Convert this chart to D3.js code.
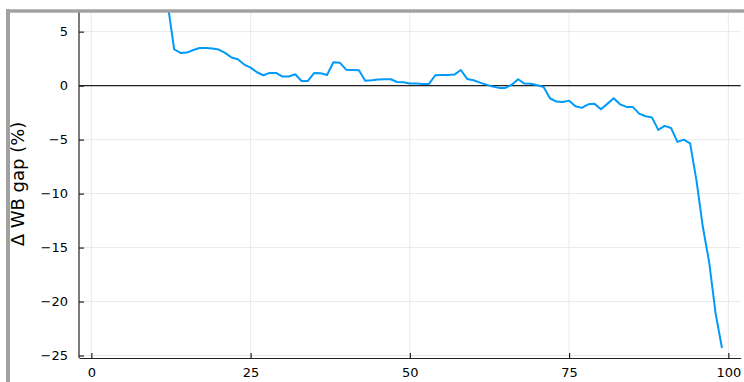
<!DOCTYPE html>
<html>
<head>
<meta charset="utf-8">
<script src="https://cdn.jsdelivr.net/npm/d3@7"></script>
<style>
  html, body { margin: 0; padding: 0; background: #fff; }
  svg { display: block; }
  text { font-family: "DejaVu Sans", sans-serif; fill: #000; }
</style>
</head>
<body>
<svg id="chart" width="744" height="382"></svg>
<script>
// Percentile rank along x, change in WB gap (%) along y
const xs = [12, 13, 14, 15, 16, 17, 18, 19, 20, 21, 22, 23, 24, 25, 26, 27, 28, 29, 30,
  31, 32, 33, 34, 35, 36, 37, 38, 39, 40, 41, 42, 43, 44, 45, 46, 47, 48, 49, 50,
  51, 52, 53, 54, 55, 56, 57, 58, 59, 60, 61, 62, 63, 64, 65, 66, 67, 68, 69, 70,
  71, 72, 73, 74, 75, 76, 77, 78, 79, 80, 81, 82, 83, 84, 85, 86, 87, 88, 89, 90,
  91, 92, 93, 94, 95, 96, 97, 98, 99];
const gap = [7.5, 3.37, 3.03, 3.06, 3.3, 3.49, 3.49, 3.43, 3.34, 3.03, 2.6, 2.44, 1.95, 1.67, 1.24, 0.96, 1.18, 1.18, 0.84,
  0.84, 1.05, 0.43, 0.43, 1.18, 1.15, 0.99, 2.16, 2.13, 1.48, 1.45, 1.42, 0.46, 0.5, 0.56, 0.59, 0.59, 0.34, 0.31, 0.2,
  0.19, 0.16, 0.16, 0.96, 0.99, 0.99, 1.02, 1.45, 0.62, 0.5, 0.28, 0.09, -0.09, -0.21, -0.21, 0.09, 0.59, 0.19, 0.17, 0.03,
  -0.12, -1.17, -1.48, -1.51, -1.39, -1.91, -2.06, -1.73, -1.69, -2.19, -1.69, -1.17, -1.73, -1.97, -1.97, -2.59, -2.84, -2.94, -4.1, -3.73,
  -3.92, -5.21, -5.0, -5.35, -8.8, -13.1, -16.4, -21.1, -24.3];
const xTicks = [0, 25, 50, 75, 100];
const yTicks = [-25, -20, -15, -10, -5, 0, 5];
const yLabel = "Δ WB gap (%)";

const svg = d3.select("#chart");
const W = 744, H = 382;
const plotLeft = 79, plotRight = 740.7, plotTop = 12, plotBottom = 358;

const x = d3.scaleLinear().domain([-1.94, 101.94]).range([plotLeft, plotRight]);
const y = d3.scaleLinear().domain([-25.23, 6.82]).range([plotBottom, plotTop]);

svg.append("rect").attr("width", W).attr("height", H).attr("fill", "#fff");

// grid
const grid = svg.append("g").attr("stroke", "#e9e9e9").attr("stroke-width", 1);
grid.selectAll("line.gx").data(xTicks).join("line")
  .attr("class", "gx")
  .attr("x1", d => x(d)).attr("x2", d => x(d))
  .attr("y1", plotTop).attr("y2", plotBottom);
grid.selectAll("line.gy").data(yTicks).join("line")
  .attr("class", "gy")
  .attr("x1", plotLeft).attr("x2", plotRight)
  .attr("y1", d => y(d)).attr("y2", d => y(d));

// zero reference line
svg.append("line")
  .attr("x1", plotLeft).attr("x2", plotRight)
  .attr("y1", y(0)).attr("y2", y(0))
  .attr("stroke", "#222").attr("stroke-width", 1.2);

// axes
const fmt = d3.format("d");
const xAxis = d3.axisBottom(x).tickValues(xTicks).tickFormat(fmt)
  .tickSizeInner(-5).tickSizeOuter(0).tickPadding(10);
const yAxis = d3.axisLeft(y).tickValues(yTicks).tickFormat(fmt)
  .tickSizeInner(-5).tickSizeOuter(0).tickPadding(11);

const gx = svg.append("g").attr("transform", `translate(0,${plotBottom})`).call(xAxis);
const gy = svg.append("g").attr("transform", `translate(${plotLeft},0)`).call(yAxis);
[gx, gy].forEach(g => {
  g.select(".domain").attr("stroke", "#222").attr("stroke-width", 1.2);
  g.selectAll(".tick line").attr("stroke", "#222").attr("stroke-width", 1.2);
  g.selectAll(".tick text").attr("font-size", 13).attr("font-family", "DejaVu Sans, sans-serif").attr("fill", "#222");
});
gy.select(".domain").attr("d", `M0,${plotBottom}V${plotTop}`);

// y label
svg.append("text")
  .attr("transform", `translate(24,184) rotate(-90)`)
  .attr("text-anchor", "middle")
  .attr("font-size", 18)
  .attr("fill", "#222")
  .text(yLabel);

// series line
svg.append("clipPath").attr("id", "plotclip")
  .append("rect").attr("x", plotLeft).attr("y", plotTop)
  .attr("width", plotRight - plotLeft).attr("height", plotBottom - plotTop);

const pts = xs.map((d, i) => [d, gap[i]]);
svg.append("path")
  .datum(pts)
  .attr("clip-path", "url(#plotclip)")
  .attr("fill", "none")
  .attr("stroke", "#009afa")
  .attr("stroke-width", 2)
  .attr("stroke-linejoin", "round")
  .attr("d", d3.line().x(d => x(d[0])).y(d => y(d[1])));

// window frame along top and left
svg.append("rect").attr("x", 0).attr("y", 0).attr("width", W).attr("height", 9.3).attr("fill", "#fff");
svg.append("rect").attr("x", 0).attr("y", 0).attr("width", 6).attr("height", H).attr("fill", "#fff");
svg.append("rect").attr("x", 6).attr("y", 9.3).attr("width", W - 6).attr("height", 3.4).attr("fill", "#a0a0a0");
svg.append("rect").attr("x", 6).attr("y", 9.3).attr("width", 4).attr("height", H - 9.3).attr("fill", "#a0a0a0");
</script>
</body>
</html>
